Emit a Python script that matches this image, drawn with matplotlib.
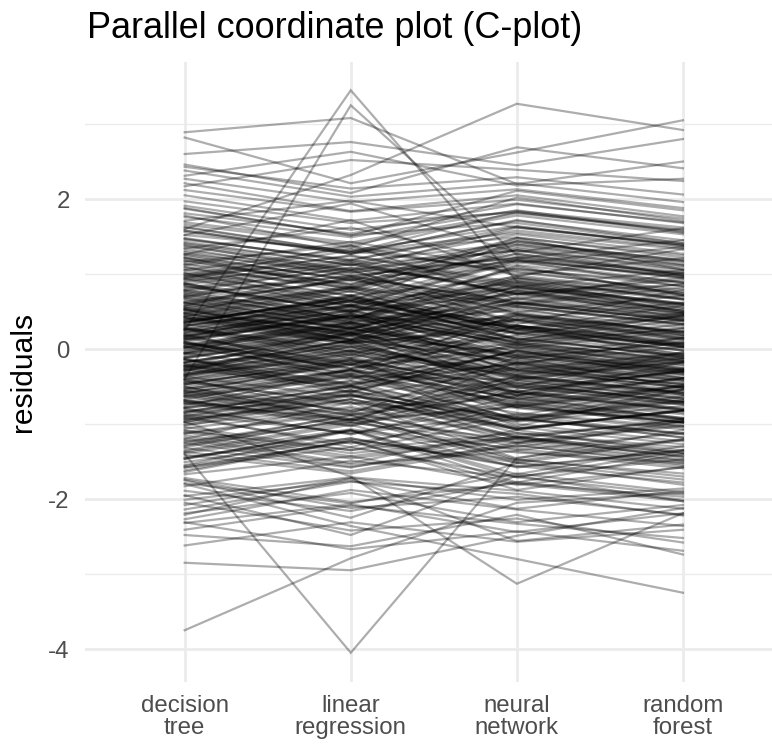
import matplotlib
matplotlib.use("Agg")
import matplotlib.pyplot as plt
from matplotlib.ticker import MultipleLocator

models = ["decision\ntree", "linear\nregression", "neural\nnetwork", "random\nforest"]

decision_tree = [
    0.12, -0.85, 1.34, -0.27, 0.56, -1.62, 0.03, 0.91, -0.44, 1.87,
    -0.12, 0.38, -1.08, 0.72, -0.63, 2.21, -1.35, 0.18, -0.05, 1.12,
    -0.92, 0.47, -2.08, 0.29, 1.56, -0.33, 0.84, -1.21, 0.06, -0.71,
    1.43, -0.18, 0.65, -1.47, 0.22, -0.56, 1.05, -0.97, 0.41, -1.83,
    0.09, 1.71, -0.39, 0.53, -1.15, 0.87, -0.24, 2.38, -0.68, 0.31,
    -1.29, 0.15, 0.99, -0.51, 1.24, -2.27, 0.44, -0.09, 0.77, -1.04,
    0.61, -0.36, 1.63, -0.81, 0.02, -1.56, 1.18, -0.15, 0.35, -0.59,
    2.05, -1.39, 0.26, -0.74, 0.93, -0.21, 1.48, -1.11, 0.11, -0.47,
    0.68, -1.72, 0.19, 1.29, -0.31, -0.88, 0.51, -2.41, 1.02, -0.06,
    -0.42, 1.91, -0.99, 0.36, -1.25, 0.81, 0.07, -0.66, 1.37, -1.51,
    0.24, -0.14, 1.09, -2.14, 0.58, -0.78, 1.76, -0.29, 0.46, -1.18,
    0.89, -0.53, 0.14, 1.52, -1.41, 0.33, -0.02, 2.27, -0.94, 0.63,
    -1.67, 0.42, -0.37, 1.16, -0.83, 0.05, 1.41, -1.96, 0.74, -0.19,
    0.28, -1.01, 1.97, -0.49, 0.96, -1.32, 0.16, -0.61, 1.21, -0.11,
    -2.32, 0.54, -0.73, 1.58, 0.01, -1.09, 0.79, -0.26, 2.12, -0.87,
    0.37, -1.44, 0.69, -0.35, 1.31, -0.58, 0.21, -1.79, 0.97, 0.08,
    -0.64, 1.66, -0.17, 0.49, -1.23, 0.86, -2.01, 0.27, -0.45, 1.14,
    0.13, -0.93, 1.81, -0.22, 0.62, -1.58, 0.39, -0.69, 1.27, -1.37,
    0.83, -0.07, -1.13, 2.43, -0.55, 0.17, 1.07, -0.79, 0.32, -1.89,
    -0.28, 1.46, -0.62, 0.71, -1.06, 0.04, 1.69, -0.41, -2.19, 0.55,
    1.01, -0.34, 0.25, -1.31, 0.78, -0.13, 1.38, -0.89, 0.43, -1.64,
    2.89, -3.75, 0.25, -1.4, 2.82, -2.62, -0.4, -2.85, 1.6, -1.8,
    -0.97, 0.34, -2.48, 1.22, 0.48, -0.76, 2.6, -1.55, 0.1, -0.3,
    1.52, -1.2, 0.88, -0.5, 1.78, -1.95, 0.58, -0.23, 1.1, -2.21,
    0.2, -0.6, 1.26, -1.46, 2.31, -0.4, 0.52, -1.75, 0.94, -0.05,
    0.31, -0.22, 0.74, -0.68, 0.15, 1.05, -0.41, 0.53, -1.12, 0.02,
    0.87, -0.79, 0.44, -0.05, 1.21, -0.33, 0.62, -0.91, 0.18, -0.56,
    1.58, -1.46, 0.09, 0.67, -0.26, 1.34, -0.72, 0.39, -0.14, 0.95,
    -0.35, 0.58, -0.97, 0.26, 0.79, -0.18, 0.47, -0.63, 1.13, -1.28,
    0.04, -0.47, 0.36, 0.98, -0.84, 0.22, -0.11, 1.47, -0.69, 0.55,
    -0.19, 0.71, -0.54, 1.62, -1.37, 0.08, 0.93, -0.28, 0.41, -0.85,
    0.52, -0.06, 1.18, -0.44, 0.27, -1.02, 0.69, -0.23, 0.13, -0.71,
    2.17, -2.05, 1.88, -1.74, 2.46, -2.31, 0.35, -0.52, 1.4, -1.25,
    0.76, -0.37, 0.01, -0.95, 0.48, -0.13, 1.26, -0.78, 0.61, -0.02,
    -0.58, 0.43, -0.25, 0.85, -0.9, 0.17, 1.0, -0.47, 0.29, -1.58,
]

linear_regression = [
    0.45, -0.62, 0.98, -0.51, 0.83, -1.21, -0.34, 1.15, -0.71, 1.52,
    0.21, 0.07, -1.39, 0.49, -0.28, 1.84, -0.98, 0.55, -0.36, 1.43,
    -1.26, 0.81, -1.72, -0.04, 1.27, -0.02, 0.51, -1.54, 0.39, -0.95,
    1.12, 0.19, 0.33, -1.09, 0.57, -0.88, 1.34, -0.63, 0.08, -1.49,
    -0.25, 1.98, -0.07, 0.21, -1.46, 0.58, 0.12, 2.03, -0.99, 0.64,
    -0.94, -0.18, 1.31, -0.83, 0.92, -1.88, 0.11, 0.26, 1.09, -1.35,
    0.93, -0.04, 1.29, -1.13, 0.35, -1.24, 0.85, -0.47, 0.68, -0.27,
    1.71, -1.07, 0.59, -0.42, 1.25, -0.53, 1.16, -1.43, 0.44, -0.15,
    0.36, -2.04, 0.52, 0.97, 0.02, -0.56, 0.83, -2.09, 0.71, 0.27,
    -0.74, 1.59, -0.67, 0.69, -1.57, 1.13, -0.26, -0.34, 1.05, -1.19,
    0.51, -0.38, 0.82, -1.77, 0.95, -0.61, 1.49, 0.12, 0.23, -1.52,
    1.17, -0.29, 0.44, 1.31, -1.66, 0.08, 0.35, 1.96, -0.71, 0.92,
    -1.43, 0.19, -0.64, 1.38, -0.55, 0.36, 1.12, -1.71, 0.97, -0.48,
    0.02, -0.77, 1.68, -0.21, 1.19, -1.58, 0.47, -0.88, 0.94, 0.18,
    -2.07, 0.81, -0.49, 1.27, 0.29, -1.35, 0.53, 0.04, 1.83, -1.12,
    0.64, -1.19, 0.41, -0.07, 1.04, -0.33, 0.49, -2.06, 1.24, -0.21,
    -0.38, 1.39, 0.11, 0.23, -0.97, 1.13, -1.76, -0.02, -0.19, 0.87,
    0.41, -0.67, 1.54, 0.05, 0.34, -1.31, 0.66, -0.95, 1.01, -1.63,
    0.56, 0.21, -0.86, 2.14, -0.82, 0.44, 0.81, -0.51, 0.58, -2.16,
    -0.02, 1.19, -0.36, 0.98, -0.79, 0.31, 1.42, -0.14, -1.92, 0.28,
    0.62, 0.08, 0.71, -0.93, 0.41, -0.57, 1.02, -1.31, 0.12, -1.22,
    3.08, -2.79, 3.45, -4.05, 2.21, -2.31, 3.25, -2.95, 2.32, -2.36,
    -1.7, 0.71, -2.63, 0.79, 0.96, -0.28, 2.76, -1.09, -0.41, 0.22,
    1.94, -0.71, 0.39, -0.97, 1.35, -2.48, 1.06, 0.28, 0.64, -1.73,
    -0.31, -0.14, 1.72, -1.08, 2.63, -0.86, 0.17, -2.25, 1.38, 0.46,
    0.58, -0.49, 0.36, -0.27, 0.66, 0.71, -0.05, 0.12, -0.83, 0.44,
    0.49, -1.14, 0.81, 0.33, 0.86, -0.12, 0.27, -0.58, -0.21, -0.19,
    1.27, -1.08, 0.48, 0.29, 0.11, 1.62, -1.03, 0.77, -0.46, 0.58,
    0.03, 0.27, -0.61, -0.12, 1.08, 0.19, 0.13, -0.94, 0.76, -0.88,
    -0.33, -0.15, 0.69, 0.61, -0.49, 0.57, 0.24, 1.18, -1.02, 0.21,
    0.16, 0.38, -0.21, 1.29, -1.01, -0.27, 0.58, 0.07, 0.09, -0.49,
    0.19, 0.29, 0.83, -0.09, -0.08, -0.67, 1.04, -0.58, 0.47, -0.36,
    2.52, -2.42, 1.51, -2.12, 2.08, -2.67, 0.72, -0.17, 1.06, -0.89,
    0.41, -0.02, 0.36, -0.6, 0.13, 0.22, 0.91, -0.43, 0.26, 0.33,
    -0.93, 0.78, 0.1, 0.5, -0.55, 0.52, 0.65, -0.12, 0.64, -1.23,
]

neural_network = [
    0.22, -0.94, 1.21, -0.18, 0.61, -1.48, -0.09, 0.74, -0.96, 1.68,
    -0.08, 0.31, -1.17, 0.85, -0.57, 2.05, -1.26, 0.29, -0.41, 1.06,
    -0.88, 0.56, -2.01, 0.17, 1.49, -0.29, 0.73, -1.36, 0.11, -0.77,
    1.31, -0.06, 0.52, -1.38, 0.36, -0.62, 1.02, -0.91, 0.27, -1.71,
    0.04, 1.62, -0.35, 0.44, -1.19, 0.81, -0.16, 2.21, -0.72, 0.28,
    -1.21, 0.08, 1.04, -0.59, 1.18, -2.14, 0.39, -0.02, 0.82, -1.12,
    0.57, -0.31, 1.55, -0.86, 0.09, -1.51, 1.12, -0.19, 0.31, -0.66,
    1.94, -1.33, 0.21, -0.79, 0.88, -0.24, 1.41, -1.17, 0.06, -0.51,
    0.61, -1.79, 0.14, 1.23, -0.37, -0.93, 0.46, -2.33, 0.96, -0.11,
    -0.38, 1.84, -1.04, 0.31, -1.29, 0.76, 0.02, -0.71, 1.32, -1.56,
    0.09, -0.21, 1.27, -1.93, 0.64, -0.97, 1.85, -0.15, 0.59, -1.08,
    0.73, -0.66, 0.31, 1.64, -1.28, 0.45, -0.18, 2.13, -1.07, 0.49,
    -1.81, 0.57, -0.26, 0.99, -0.94, -0.11, 1.53, -1.89, 0.62, -0.03,
    0.41, -1.15, 1.82, -0.62, 0.83, -1.19, 0.04, -0.49, 1.36, -0.27,
    -2.44, 0.39, -0.85, 1.71, -0.13, -0.92, 0.91, -0.38, 1.99, -0.74,
    0.25, -1.57, 0.82, -0.48, 1.43, -0.71, 0.09, -1.66, 0.85, 0.19,
    -0.77, 1.78, -0.29, 0.62, -1.35, 0.73, -2.13, 0.39, -0.58, 1.27,
    0.01, -1.06, 1.93, -0.35, 0.75, -1.7, 0.27, -0.57, 1.39, -1.25,
    0.95, -0.19, -1.25, 2.29, -0.43, 0.05, 1.19, -0.91, 0.2, -1.77,
    -0.4, 1.58, -0.74, 0.59, -1.18, -0.08, 1.81, -0.53, -2.31, 0.67,
    0.88, -0.45, 0.38, -1.52, 0.94, -0.02, 1.21, -0.74, 0.55, -1.88,
    2.2, -2.05, 0.9, -1.45, 2.62, -2.57, 1.25, -2.49, 3.27, -2.8,
    -3.13, 0.12, -2.21, 1.48, 0.27, -1.03, 2.45, -1.78, 0.31, -0.62,
    1.29, -1.46, 1.11, -0.18, 2.02, -1.69, 0.33, -0.51, 1.44, -2.56,
    0.46, -0.89, 0.97, -1.71, 2.18, -0.11, 0.78, -1.52, 0.66, -0.32,
    0.12, -0.03, 0.91, -0.95, 0.28, 1.32, -0.62, 0.47, -1.31, -0.21,
    1.09, -0.63, 0.25, -0.28, 1.45, -0.57, 0.84, -1.07, 0.39, -0.78,
    1.72, -1.67, -0.13, 0.88, -0.49, 1.15, -0.55, 0.21, 0.07, 1.18,
    -0.57, 0.79, -1.19, 0.43, 0.61, -0.38, 0.68, -0.41, 1.34, -1.49,
    0.25, -0.68, 0.14, 1.19, -1.06, 0.01, -0.34, 1.63, -0.45, 0.78,
    -0.41, 0.94, -0.77, 1.83, -1.58, 0.31, 1.16, -0.51, 0.62, -1.08,
    0.74, -0.28, 1.39, -0.66, 0.49, -1.24, 0.47, -0.01, -0.09, -0.93,
    2.39, -2.26, 2.11, -1.97, 2.69, -2.43, 0.13, -0.75, 1.62, -1.47,
    0.98, -0.59, -0.21, -1.17, 0.7, -0.35, 1.48, -1.0, 0.83, -0.24,
    -0.36, 0.21, -0.47, 1.07, -1.12, -0.05, 1.22, -0.69, 0.07, -1.8,
]

random_forest = [
    0.05, -0.71, 0.95, -0.42, 0.38, -1.66, -0.31, 0.92, -0.63, 1.41,
    -0.33, 0.12, -1.45, 0.61, -0.74, 1.77, -1.03, 0.02, -0.18, 0.88,
    -1.14, 0.33, -1.86, -0.12, 1.22, -0.51, 0.48, -1.59, -0.16, -0.98,
    1.05, -0.29, 0.28, -1.52, 0.14, -0.85, 0.79, -1.18, 0.03, -1.94,
    -0.19, 1.39, -0.58, 0.22, -1.43, 0.55, -0.39, 1.96, -0.94, 0.06,
    -1.48, -0.13, 0.76, -0.81, 0.97, -2.36, 0.17, -0.28, 0.59, -1.31,
    0.34, -0.55, 1.33, -1.07, -0.15, -1.74, 0.89, -0.42, 0.08, -0.87,
    1.68, -1.56, -0.01, -0.98, 0.66, -0.47, 1.19, -1.38, -0.18, -0.73,
    0.39, -1.97, -0.09, 1.01, -0.58, -1.12, 0.23, -2.52, 0.74, -0.34,
    -0.61, 1.62, -1.27, 0.09, -1.51, 0.53, -0.21, -0.93, 1.09, -1.78,
    0.27, -0.49, 0.98, -2.22, 0.41, -0.76, 1.56, -0.38, 0.33, -1.39,
    0.86, -0.92, 0.02, 1.37, -1.54, 0.19, -0.41, 1.88, -0.83, 0.71,
    -1.58, 0.31, -0.52, 1.21, -1.13, 0.08, 1.27, -2.13, 0.45, -0.29,
    0.18, -0.96, 1.59, -0.39, 1.05, -1.43, -0.22, -0.71, 1.12, -0.05,
    -2.19, 0.62, -1.04, 1.45, 0.09, -1.18, 0.67, -0.16, 1.74, -0.98,
    0.46, -1.35, 0.58, -0.26, 1.17, -0.49, 0.33, -1.91, 0.61, -0.07,
    -0.54, 1.53, -0.06, 0.37, -1.12, 0.95, -1.89, 0.15, -0.81, 1.02,
    0.24, -0.82, 1.69, -0.13, 0.51, -1.47, 0.48, -0.8, 1.16, -1.49,
    0.72, 0.03, -1.01, 2.06, -0.66, 0.28, 0.96, -0.68, 0.43, -2.01,
    -0.17, 1.35, -0.51, 0.82, -0.95, 0.15, 1.58, -0.3, -2.08, 0.44,
    0.49, -0.71, 0.06, -1.21, 0.67, -0.39, 1.45, -1.03, 0.19, -1.57,
    2.5, -1.92, 0.7, -1.2, 3.05, -2.41, 1.0, -2.12, 2.92, -3.25,
    -2.19, 0.45, -2.74, 1.06, 0.58, -0.54, 2.8, -1.4, -0.12, -0.27,
    1.61, -1.08, 0.72, -0.61, 1.71, -2.03, 0.79, -0.04, 1.18, -2.34,
    0.14, -0.48, 1.33, -1.36, 2.27, -0.52, 0.41, -1.81, 1.02, -0.09,
    0.39, -0.31, 0.55, -0.54, -0.07, 0.98, -0.18, 0.21, -0.97, 0.15,
    0.72, -0.94, 0.06, -0.46, 1.13, -0.3, 0.51, -0.82, 0.03, -0.95,
    1.41, -1.29, -0.35, 0.59, -0.67, 1.36, -0.79, 0.44, -0.26, 0.83,
    -0.29, 0.51, -0.93, 0.12, 0.87, -0.61, 0.39, -0.66, 1.06, -1.21,
    -0.02, -0.39, -0.09, 0.94, -0.82, -0.27, -0.12, 1.39, -0.71, 0.49,
    -0.64, 0.66, -0.49, 1.55, -1.35, 0.04, 0.89, -0.74, 0.37, -0.81,
    0.47, -0.51, 1.11, -0.39, 0.22, -0.97, 0.24, -0.25, -0.32, -0.69,
    2.24, -2.58, 1.85, -2.21, 2.41, -2.69, -0.1, -0.98, 1.38, -1.7,
    0.75, -0.82, -0.44, -1.4, 0.47, -0.58, 1.25, -1.23, 0.6, -0.47,
    -0.59, -0.02, -0.7, 0.84, -1.35, -0.28, 0.99, -0.92, -0.16, -2.03,
]

plt.rcParams["font.family"] = ["Liberation Sans", "DejaVu Sans"]
plt.rcParams["axes.unicode_minus"] = False

W, H = 772, 750
fig = plt.figure(figsize=(W / 100, H / 100), dpi=100)
# panel runs past the right edge of the picture, as in the reference
ax = fig.add_axes([85 / W, 68 / H, 697.6 / W, 620 / H])

xpos = list(range(1, len(models) + 1))
for row in zip(decision_tree, linear_regression, neural_network, random_forest):
    ax.plot(xpos, row, color="black", alpha=0.32, linewidth=1.6,
            solid_joinstyle="miter", zorder=3)

ax.set_xlim(0.4, 4.6)
ax.set_ylim(-4.44, 3.827)
ax.set_xticks(xpos)
ax.set_xticklabels(models, linespacing=1.05)
ax.yaxis.set_major_locator(MultipleLocator(2))
ax.yaxis.set_minor_locator(MultipleLocator(1))

# theme_minimal-like grid
ax.grid(True, which="major", color="#EBEBEB", linewidth=1.95, zorder=0)
ax.grid(True, which="minor", axis="y", color="#EBEBEB", linewidth=0.95, zorder=0)
ax.set_axisbelow(True)
for s in ax.spines.values():
    s.set_visible(False)
ax.tick_params(which="both", length=0)
ax.tick_params(axis="y", labelsize=17.3, labelcolor="#4D4D4D", pad=11)
ax.tick_params(axis="x", labelsize=17.3, labelcolor="#4D4D4D", pad=9)

ax.set_ylabel("residuals", fontsize=21.6, labelpad=8)
fig.text(87 / W, 1 - 38 / H, "Parallel coordinate plot (C-plot)",
         fontsize=25.9, ha="left", va="baseline")

fig.savefig("out.png", dpi=100)
